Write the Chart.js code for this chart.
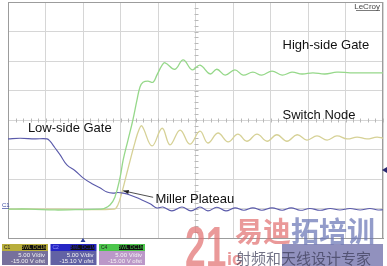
<!DOCTYPE html>
<html>
<head>
<meta charset="utf-8">
<script src="https://cdn.jsdelivr.net/npm/chart.js@4/dist/chart.umd.min.js"></script>
<style>
  html, body { margin: 0; padding: 0; background: #fff; }
  canvas { display: block; }
</style>
</head>
<body>
<canvas id="scope" width="387" height="266"></canvas>
<script>
// time in divisions (10 div across), volts at 5 V/div, 0 V = 1 div above bottom
const hsTime  = [0, 0.59, 1.25, 1.79, 2.45, 2.56, 2.72, 2.85, 2.99, 3.07, 3.20, 3.33, 3.44, 3.52, 3.60, 3.73, 3.87, 3.97, 4.11, 4.19, 4.45, 4.67, 4.91, 5.12, 5.39, 5.57, 5.79, 6.05, 6.27, 6.53, 6.77, 7.04, 7.31, 7.57, 7.84, 8.13, 8.45, 8.77, 9.12, 9.47, 10];
const hsVolts = [-0.1, -0.1, -0.25, -0.2, -0.1, 0, 0.6, 1.9, 5.3, 8.2, 11.6, 15.0, 18.4, 20.6, 21.4, 21.6, 21.4, 22.6, 24.3, 24.7, 23.6, 25.2, 23.5, 24.3, 22.8, 23.6, 22.6, 23.5, 22.6, 23.1, 22.6, 23.3, 22.6, 23.1, 22.8, 23.0, 22.8, 23.1, 23.0, 23.0, 23.0];

const swTime  = [0, 1.39, 2.83, 2.93, 3.04, 3.17, 3.28, 3.39, 3.49, 3.57, 3.84, 4.11, 4.32, 4.59, 4.85, 5.12, 5.33, 5.60, 5.87, 6.13, 6.37, 6.64, 6.91, 7.17, 7.44, 7.71, 7.97, 8.24, 8.51, 8.77, 9.04, 9.31, 9.57, 9.84, 10];
const swVolts = [-0.1, -0.1, -0.1, 0.6, 2.8, 6.0, 8.7, 11.3, 13.3, 14.0, 10.6, 13.6, 10.8, 13.3, 10.9, 13.1, 11.1, 12.8, 11.3, 12.6, 11.4, 12.6, 11.4, 12.5, 11.4, 12.5, 11.6, 12.3, 11.6, 12.3, 11.8, 12.1, 11.8, 12.1, 11.9];

const lsTime  = [0, 0.32, 0.72, 1.04, 1.12, 1.25, 1.39, 1.57, 1.79, 2.00, 2.24, 2.45, 2.64, 2.80, 2.93, 3.07, 3.25, 3.52, 3.79, 3.97, 4.13, 4.37, 4.64, 4.88, 5.12, 5.33, 5.57, 5.81, 6.05, 6.29, 6.53, 6.77, 7.04, 7.31, 7.55, 7.79, 8.05, 8.32, 8.59, 8.85, 9.12, 9.39, 9.65, 9.87, 10];
const lsVolts = [11.8, 11.9, 11.8, 11.8, 11.4, 10.3, 9.1, 7.4, 6.4, 5.2, 4.2, 3.5, 2.8, 2.6, 2.7, 2.6, 2.3, 1.6, 0.8, 0.1, 0.25, -0.4, 0.25, -0.4, 0.25, -0.4, 0.2, -0.4, 0.1, -0.3, 0.1, -0.3, 0.1, -0.3, 0.1, -0.3, 0, -0.3, 0, -0.25, 0, -0.25, 0, -0.25, -0.2];

const chanNames   = ["C1", "C2", "C4"];
const chanScales  = ["5.00 V/div", "5.00 V/div", "5.00 V/div"];
const chanOffsets = ["-15.00 V ofst", "-15.10 V ofst", "-15.00 V ofst"];

const pts = (t, v) => t.map((x, i) => ({ x: x, y: v[i] }));

const FONT = '"Liberation Sans", Arial, sans-serif';

const scopeDecor = {
  id: "scopeDecor",
  beforeDraw(chart) {
    const c = chart.ctx;
    c.save();
    c.fillStyle = "#fff";
    c.fillRect(0, 0, chart.width, chart.height);
    c.restore();
  },
  beforeDatasetsDraw(chart) {
    const c = chart.ctx, sx = chart.scales.x, sy = chart.scales.y, a = chart.chartArea;
    const cx = Math.round(sx.getPixelForValue(5)) + 0.5, cy = Math.round(sy.getPixelForValue(15)) + 0.5;
    c.save();
    c.strokeStyle = "#b8b8b8";
    c.lineWidth = 1;
    c.beginPath();
    for (let t = 0; t <= 10.001; t += 0.2) {
      const px = Math.round(sx.getPixelForValue(t)) + 0.5;
      c.moveTo(px, cy - 2); c.lineTo(px, cy + 2);
    }
    for (let v = -5; v <= 35.001; v += 1) {
      const py = Math.round(sy.getPixelForValue(v)) + 0.5;
      c.moveTo(cx - 2, py); c.lineTo(cx + 2, py);
    }
    c.stroke();
    // frame all round
    c.strokeStyle = "#9c9c9c";
    c.strokeRect(Math.round(a.left) + 0.5, Math.round(a.top) + 0.5,
      Math.round(a.right - a.left) - 1, Math.round(a.bottom - a.top));
    c.restore();
  },
  afterDatasetsDraw(chart) {
    const c = chart.ctx, sx = chart.scales.x, sy = chart.scales.y;
    c.save();
    c.fillStyle = "#111";
    c.font = "13px " + FONT;
    c.textBaseline = "middle";
    c.fillText("High-side Gate", sx.getPixelForValue(7.32), sy.getPixelForValue(27.7));
    c.fillText("Switch Node", sx.getPixelForValue(7.32), sy.getPixelForValue(15.8));
    c.fillText("Low-side Gate", sx.getPixelForValue(0.53), sy.getPixelForValue(13.5));
    c.fillText("Miller Plateau", sx.getPixelForValue(3.93), sy.getPixelForValue(1.6));

    // arrow to the plateau
    const ax = sx.getPixelForValue(3.07), ay = sy.getPixelForValue(3.0);
    const bx = sx.getPixelForValue(3.87), by = sy.getPixelForValue(1.9);
    c.strokeStyle = "#222"; c.lineWidth = 0.8;
    c.beginPath(); c.moveTo(bx, by); c.lineTo(ax, ay); c.stroke();
    const ang = Math.atan2(ay - by, ax - bx);
    c.beginPath();
    c.moveTo(ax, ay);
    c.lineTo(ax - 6 * Math.cos(ang - 0.35), ay - 6 * Math.sin(ang - 0.35));
    c.lineTo(ax - 6 * Math.cos(ang + 0.35), ay - 6 * Math.sin(ang + 0.35));
    c.closePath(); c.fillStyle = "#222"; c.fill();

    // LeCroy tag
    c.font = "8px " + FONT;
    c.fillStyle = "#444";
    c.textAlign = "right";
    c.textBaseline = "alphabetic";
    c.fillText("LeCroy", 380, 9);
    c.fillRect(356, 10, 24, 0.7);

    // ground marker and trigger level
    c.textAlign = "left";
    c.font = "6px " + FONT;
    c.fillStyle = "#3a4aa0";
    c.fillText("C1", 2, 207);
    c.fillRect(2, 208, 7, 0.7);
    c.beginPath();
    c.moveTo(382, 170); c.lineTo(387, 167); c.lineTo(387, 173); c.closePath();
    c.fillStyle = "#2a2a70"; c.fill();
    // trigger position marker
    c.beginPath();
    c.moveTo(83, 238); c.lineTo(80.5, 242); c.lineTo(85.5, 242); c.closePath();
    c.fillStyle = "#3040a0"; c.fill();
    c.restore();
  },
  afterDraw(chart) {
    const c = chart.ctx;
    c.save();
    // channel info boxes
    const heads = ["#b8ae3c", "#2626c4", "#4cc64c"];
    const bodies = ["#77709c", "#6262a4", "#bb98c8"];
    chanNames.forEach((name, i) => {
      const x = 2 + i * 48.5, y = 244, w = 46;
      c.fillStyle = heads[i];
      c.fillRect(x, y, w, 7);
      c.fillStyle = "#111";
      c.fillRect(x + 20, y + 1, 24, 5);
      c.fillStyle = bodies[i];
      c.fillRect(x, y + 7, w, 14);
      c.font = "5px " + FONT;
      c.textBaseline = "middle";
      c.textAlign = "left";
      c.fillStyle = i === 1 ? "#9090ff" : "#222";
      c.fillText(name, x + 2, y + 3.7);
      c.fillStyle = heads[i];
      c.textAlign = "center";
      c.fillText("BWL DC1M", x + 32, y + 3.7);
      c.fillStyle = "#f4f4f4";
      c.textAlign = "right";
      c.font = "6px " + FONT;
      c.fillText(chanScales[i], x + w - 3, y + 11);
      c.fillText(chanOffsets[i], x + w - 3, y + 17.5);
    });

    // site watermark
    c.globalAlpha = 0.75;
    c.fillStyle = "#6c6ca8";
    c.fillRect(282, 244, 101, 22);
    c.globalAlpha = 0.72;
    c.textAlign = "left";
    c.textBaseline = "alphabetic";
    c.fillStyle = "#e27272";
    c.save();
    c.translate(185, 267);
    c.scale(0.64, 1);
    c.font = "bold 58px " + FONT;
    c.fillText("21", 0, 0);
    c.restore();
    c.font = "bold 18px " + FONT;
    c.fillText("ic", 227, 265);
    c.font = 'bold 28px "Noto Sans CJK SC"';
    c.fillStyle = "#e27272";
    c.fillText("易迪", 235, 242);
    c.fillStyle = "#6a76b6";
    c.fillText("拓培训", 291, 242);
    c.font = '15px "Noto Sans CJK SC"';
    c.fillStyle = "#3c3c58";
    c.fillText("射频和天线设计专家", 236, 264);
    c.restore();
  }
};

new Chart(document.getElementById("scope"), {
  type: "line",
  data: {
    datasets: [
      { label: "High-side Gate", data: pts(hsTime, hsVolts), borderColor: "#96d88a", borderWidth: 1.3 },
      { label: "Low-side Gate", data: pts(lsTime, lsVolts), borderColor: "#5a5aaa", borderWidth: 1.1 },
      { label: "Switch Node", data: pts(swTime, swVolts), borderColor: "#d6d196", borderWidth: 1.3 }
    ]
  },
  options: {
    responsive: false,
    animation: false,
    devicePixelRatio: 1,
    layout: { padding: { left: 8, top: 2, right: 4, bottom: 28 } },
    elements: {
      point: { radius: 0 },
      line: { tension: 0.4, fill: false }
    },
    scales: {
      x: {
        type: "linear", min: 0, max: 10,
        ticks: { display: false, stepSize: 1 },
        grid: { color: "#d6d6d6", drawTicks: false },
        border: { color: "#9c9c9c" }
      },
      y: {
        type: "linear", min: -5, max: 35,
        ticks: { display: false, stepSize: 5 },
        grid: { color: "#d6d6d6", drawTicks: false },
        border: { color: "#9c9c9c" }
      }
    },
    plugins: {
      legend: { display: false },
      tooltip: { enabled: false }
    }
  },
  plugins: [scopeDecor]
});
</script>
</body>
</html>
